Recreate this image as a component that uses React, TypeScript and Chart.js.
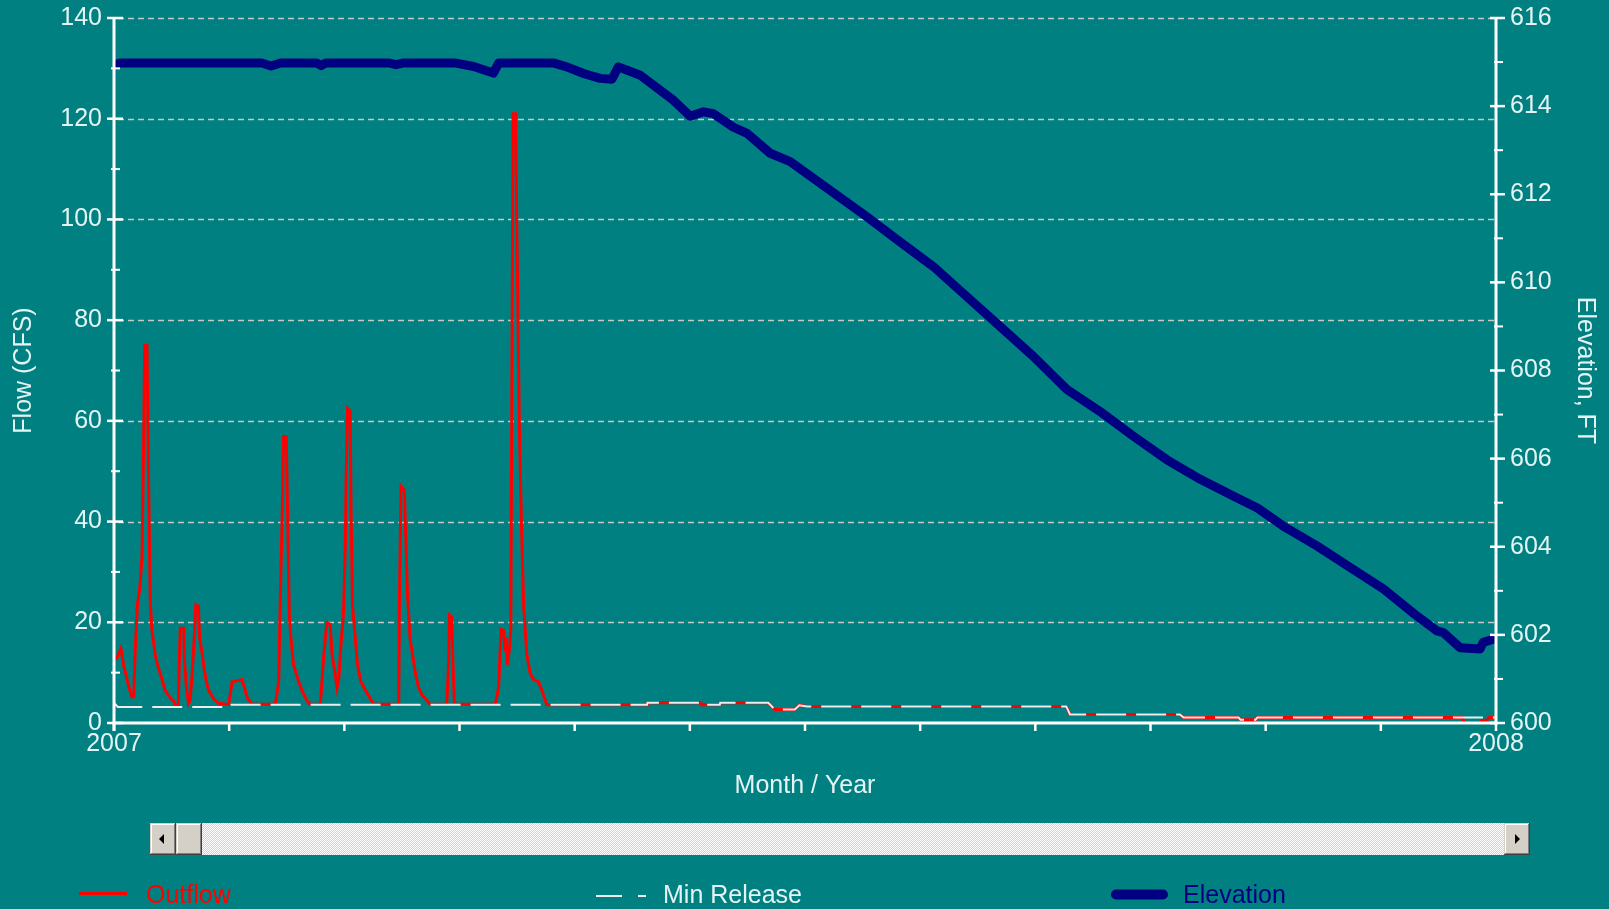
import React, { useEffect, useRef } from 'react';
import { Chart, registerables } from 'chart.js';

Chart.register(...registerables);

const W = 1609;
const H = 909;
const FONT_FAMILY = '"Liberation Sans", Arial, Helvetica, sans-serif';
const BG = '#008080';
const TEXT = '#e4f4f4';
const AXIS = '#ffffff';
const GRID = '#c8c8c8';
const RED = '#ff0000';
const NAVY = '#000080';
const MINREL = '#eeeeee';

// ---- tick labels / axis ranges ----
const yearLabels = ['2007', '2008'];
const daysInYear = 365;
const monthsInYear = 12;
const flowRange = [0, 140];
const flowStep = 20;
const elevRange = [600, 616];
const elevStep = 2;

// ---- series (x = day of year 2007) ----
const outflowDays = [
  0, 0.8, 1.8, 2.5, 3.3, 3.9, 4.7, 5.2, 5.6, 6.2, 6.8, 7.1, 7.4, 7.8, 8.1, 8.7, 9.1, 9.6, 10.0, 10.9,
  11.8, 12.7, 13.5, 15.0, 15.7, 16.2, 17.0, 17.2, 17.5, 18.4, 18.6, 19.1, 19.7, 20.1, 20.6, 21.2, 21.6,
  22.3, 22.6, 23.2, 23.8, 24.4, 25.0, 26.3, 27.6, 30.3, 31.2, 33.8, 34.4, 35.1, 36.4, 42.6, 43.5, 43.9,
  44.4, 44.8, 45.5, 45.9, 46.3, 46.7, 47.4, 48.8, 49.6, 51.0, 51.8, 54.5, 55.4, 56.2, 57.1, 57.6, 58.3,
  58.9, 59.4, 59.9, 60.6, 61.1, 61.3, 61.7, 62.4, 62.6, 63.0, 63.7, 64.3, 65.2, 66.4, 67.7, 68.6, 75.2,
  75.4, 75.8, 76.7, 77.1, 77.5, 78.2, 78.9, 79.6, 80.4, 81.3, 83.5, 87.9, 88.4, 88.6, 89.2, 89.5, 89.9,
  100.7, 101.6, 102.2, 102.9, 103.2, 103.6, 103.9, 104.5, 104.8, 105.1, 105.4, 106.1, 106.4, 106.8,
  107.1, 107.6, 108.2, 108.6, 109.0, 109.9, 110.8, 112.1, 113.0, 114.3, 140.8, 140.9, 155.0, 155.1,
  160.0, 160.1, 172.8, 174.5, 179.8, 181.0, 183.0, 251.5, 252.5, 281.5, 282.5, 297.0, 297.5, 301.5,
  302.0, 356.2, 356.6, 360.8, 361.2, 362.5, 363.2, 365.0,
];
const outflowCfs = [
  12.5, 13.0, 14.8, 11.6, 9.2, 7.2, 5.2, 5.2, 14.3, 23.7, 26.7, 29.8, 33.2, 53.9, 75.0, 75.0, 49.6, 23.7, 18.6, 13.4,
  10.8, 8.6, 6.5, 4.8, 4.4, 3.7, 3.7, 10.8, 18.8, 18.8, 12.5, 7.2, 3.9, 4.4, 9.2, 17.0, 23.5,
  23.2, 17.0, 14.3, 10.8, 8.2, 6.5, 4.8, 3.9, 3.7, 8.2, 8.6, 7.2, 5.2, 3.7, 3.7, 8.2, 24.1,
  40.6, 56.9, 56.9, 39.3, 21.4, 17.0, 11.6, 8.2, 6.5, 4.4, 3.7, 3.7, 13.4, 19.9, 19.6, 13.4, 10.4,
  7.0, 9.0, 15.1, 21.8, 35.4, 48.7, 62.5, 62.0, 42.6, 23.2, 17.0, 11.6, 8.2, 6.5, 4.8, 3.7, 3.7,
  24.9, 47.0, 46.1, 35.8, 25.8, 16.6, 13.4, 9.9, 7.2, 5.6, 3.7, 3.7, 12.5, 21.4, 21.0, 12.5, 3.7,
  3.7, 7.2, 18.6, 18.4, 14.3, 17.0, 11.6, 15.1, 18.6, 70.3, 121.0, 121.0, 97.6, 73.8,
  57.3, 39.8, 23.2, 18.6, 13.8, 9.9, 8.6, 8.2, 6.5, 3.6, 3.6, 4.0, 4.0, 3.6,
  3.6, 4.0, 4.0, 2.7, 2.7, 3.5, 3.3, 3.3, 1.7, 1.7, 1.1, 1.1, 0.65, 0.65,
  1.1, 1.1, 0.0, 0.0, 0.5, 0.5, 1.1, 1.1,
];

const minReleaseDays = [
  0, 1, 30.4, 30.5, 140.8, 140.9, 155.0, 155.1, 160.0, 160.1, 172.8, 174.5, 179.8, 181.0, 183.0,
  251.5, 252.5, 281.5, 282.5, 297.0, 297.5, 301.5, 302.0, 365.0,
];
const minReleaseCfs = [
  4.0, 3.2, 3.2, 3.6, 3.6, 4.0, 4.0, 3.6, 3.6, 4.0, 4.0, 2.7, 2.7, 3.5, 3.3,
  3.3, 1.7, 1.7, 1.1, 1.1, 0.65, 0.65, 1.1, 1.1,
];

const elevationDays = [
  0, 1.5, 39, 41.5, 44, 53.5, 54.7, 56, 72.5, 74.5, 76.5, 90, 95, 100.2, 101.6, 116, 119.6, 124, 128.4,
  131.5, 133.2, 139, 147.8, 152.2, 155.7, 158.3, 163.6, 167.2, 173.3, 178.6, 183, 190.9, 198.8, 207.6,
  216.4, 225.2, 234, 242.8, 251.7, 260.4, 269.2, 278, 286.9, 295.6, 302, 308.8, 317.7, 326.5, 335.3,
  344.1, 349.4, 351.1, 355.5, 360.8, 361.6, 364.3, 365,
];
const elevationFt = [
  614.93, 614.98, 614.98, 614.91, 614.98, 614.98, 614.92, 614.98, 614.98, 614.94, 614.98, 614.98, 614.9,
  614.75, 614.98, 614.98, 614.89, 614.74, 614.63, 614.61, 614.89, 614.7, 614.13, 613.77, 613.87, 613.83,
  613.52, 613.38, 612.93, 612.74, 612.47, 611.98, 611.49, 610.92, 610.36, 609.68, 609.0, 608.32, 607.57,
  607.07, 606.51, 605.98, 605.53, 605.15, 604.88, 604.47, 604.02, 603.53, 603.04, 602.43, 602.09, 602.05,
  601.71, 601.68, 601.83, 601.9, 601.95,
];

const seriesLabels = ['Outflow', 'Min Release', 'Elevation'];

function toPoints(xs: number[], ys: number[]) {
  return xs.map((x, i) => ({ x, y: ys[i] }));
}

function line(ctx: CanvasRenderingContext2D, x1: number, y1: number, x2: number, y2: number) {
  ctx.beginPath();
  ctx.moveTo(x1, y1);
  ctx.lineTo(x2, y2);
  ctx.stroke();
}

function bevel(ctx: CanvasRenderingContext2D, x: number, y: number, w: number, h: number) {
  ctx.fillStyle = '#d4d0c8';
  ctx.fillRect(x, y, w, h);
  ctx.fillStyle = '#ffffff';
  ctx.fillRect(x + 1, y + 1, w - 2, 1);
  ctx.fillRect(x + 1, y + 1, 1, h - 2);
  ctx.fillStyle = '#808080';
  ctx.fillRect(x + 1, y + h - 2, w - 2, 1);
  ctx.fillRect(x + w - 2, y + 1, 1, h - 2);
  ctx.fillStyle = '#404040';
  ctx.fillRect(x, y + h - 1, w, 1);
  ctx.fillRect(x + w - 1, y, 1, h);
}

function noScalePadding(s: any) {
  s.paddingTop = 0;
  s.paddingBottom = 0;
  s.paddingLeft = 0;
  s.paddingRight = 0;
}

const decorPlugin = {
  id: 'decor',
  beforeDraw(chart: any) {
    const { ctx, width, height } = chart;
    ctx.save();
    ctx.fillStyle = BG;
    ctx.fillRect(0, 0, width, height);
    ctx.restore();
  },
  beforeDatasetsDraw(chart: any) {
    const { ctx, chartArea: a, scales } = chart;
    const y = scales.y;
    ctx.save();
    ctx.strokeStyle = GRID;
    ctx.lineWidth = 1.5;
    ctx.setLineDash([6, 4]);
    for (const t of y.ticks) {
      if (t.value <= flowRange[0]) continue;
      const py = Math.round(y.getPixelForValue(t.value)) + 0.5;
      line(ctx, a.left + 4, py, a.right - 2, py);
    }
    ctx.restore();
  },
  afterDatasetsDraw(chart: any) {
    const { ctx, chartArea: a, scales } = chart;
    const { x, y, y2 } = scales;
    ctx.save();
    ctx.strokeStyle = AXIS;
    ctx.lineCap = 'butt';
    ctx.lineWidth = 3;
    line(ctx, a.left, a.top - 1, a.left, a.bottom + 8);
    line(ctx, a.right, a.top - 1, a.right, a.bottom + 2);
    line(ctx, a.left, a.bottom, a.right, a.bottom);
    // left ticks
    ctx.lineWidth = 2.5;
    y.ticks.forEach((t: any) => {
      const py = y.getPixelForValue(t.value);
      line(ctx, a.left - 7, py, a.left + 9, py);
    });
    ctx.lineWidth = 2;
    for (let i = 0; i < y.ticks.length - 1; i++) {
      const py = y.getPixelForValue((y.ticks[i].value + y.ticks[i + 1].value) / 2);
      line(ctx, a.left - 3, py, a.left + 6, py);
    }
    // right ticks
    ctx.lineWidth = 2.5;
    y2.ticks.forEach((t: any) => {
      const py = y2.getPixelForValue(t.value);
      line(ctx, a.right - 6, py, a.right + 9, py);
    });
    ctx.lineWidth = 2;
    for (let i = 0; i < y2.ticks.length - 1; i++) {
      const py = y2.getPixelForValue((y2.ticks[i].value + y2.ticks[i + 1].value) / 2);
      line(ctx, a.right - 2, py, a.right + 7, py);
    }
    // x ticks
    ctx.lineWidth = 2.5;
    x.ticks.forEach((t: any) => {
      const px = x.getPixelForValue(t.value);
      line(ctx, px, a.bottom, px, a.bottom + 8);
    });
    ctx.restore();
  },
  afterDraw(chart: any) {
    const { ctx } = chart;
    ctx.save();
    // scrollbar
    const sx0 = 150, sx1 = 1530, sy = 823, sh = 32, bw = 26;
    const pat = document.createElement('canvas');
    pat.width = 2;
    pat.height = 2;
    const pc = pat.getContext('2d')!;
    pc.fillStyle = '#d4d0c8';
    pc.fillRect(0, 0, 2, 2);
    pc.fillStyle = '#ffffff';
    pc.fillRect(0, 0, 1, 1);
    pc.fillRect(1, 1, 1, 1);
    ctx.fillStyle = ctx.createPattern(pat, 'repeat');
    ctx.fillRect(sx0, sy, sx1 - sx0, sh);
    bevel(ctx, sx0, sy, bw, sh);
    bevel(ctx, sx0 + bw, sy, bw, sh);
    bevel(ctx, sx1 - bw, sy, bw, sh);
    ctx.fillStyle = '#000000';
    const cy = sy + sh / 2;
    ctx.beginPath();
    ctx.moveTo(sx0 + 9, cy);
    ctx.lineTo(sx0 + 14, cy - 5);
    ctx.lineTo(sx0 + 14, cy + 5);
    ctx.closePath();
    ctx.fill();
    ctx.beginPath();
    ctx.moveTo(sx1 - 10, cy);
    ctx.lineTo(sx1 - 15, cy - 5);
    ctx.lineTo(sx1 - 15, cy + 5);
    ctx.closePath();
    ctx.fill();

    // legend
    const base = 903;
    ctx.font = `25px ${FONT_FAMILY}`;
    ctx.textBaseline = 'alphabetic';
    ctx.textAlign = 'left';
    // Outflow
    ctx.strokeStyle = RED;
    ctx.lineWidth = 3;
    line(ctx, 79, 893.5, 127, 893.5);
    ctx.fillStyle = RED;
    ctx.fillText(seriesLabels[0], 146, base);
    // Min Release
    ctx.strokeStyle = MINREL;
    ctx.lineWidth = 2;
    line(ctx, 596, 896, 622, 896);
    line(ctx, 638, 896, 646, 896);
    ctx.fillStyle = TEXT;
    ctx.fillText(seriesLabels[1], 663, base);
    // Elevation
    ctx.strokeStyle = NAVY;
    ctx.lineWidth = 10;
    ctx.lineCap = 'round';
    line(ctx, 1116, 894.5, 1163, 894.5);
    ctx.fillStyle = NAVY;
    ctx.fillText(seriesLabels[2], 1183, base);
    ctx.restore();
  },
};

export default function App() {
  const ref = useRef<HTMLCanvasElement>(null);

  useEffect(() => {
    const canvas = ref.current;
    if (!canvas) return;
    Chart.defaults.font.family = FONT_FAMILY;
    Chart.defaults.color = TEXT;

    const axisFont = { family: FONT_FAMILY, size: 25 };

    const chart = new Chart(canvas, {
      type: 'line',
      data: {
        datasets: [
          {
            label: seriesLabels[0],
            data: toPoints(outflowDays, outflowCfs),
            borderColor: RED,
            backgroundColor: RED,
            borderWidth: 3,
            pointRadius: 0,
            tension: 0,
            yAxisID: 'y',
            order: 1,
          },
          {
            label: seriesLabels[1],
            data: toPoints(minReleaseDays, minReleaseCfs),
            borderColor: MINREL,
            backgroundColor: MINREL,
            borderWidth: 2,
            borderDash: [30, 10],
            pointRadius: 0,
            tension: 0,
            yAxisID: 'y',
            order: 0,
          },
          {
            label: seriesLabels[2],
            data: toPoints(elevationDays, elevationFt),
            borderColor: NAVY,
            backgroundColor: NAVY,
            borderWidth: 9,
            borderCapStyle: 'round',
            borderJoinStyle: 'round',
            pointRadius: 0,
            tension: 0,
            yAxisID: 'y2',
            order: 2,
          },
        ],
      },
      options: {
        responsive: false,
        animation: false,
        devicePixelRatio: 1,
        events: [],
        layout: { padding: { top: 18, bottom: H - 801, left: 0, right: 0 } },
        plugins: { legend: { display: false }, tooltip: { enabled: false } },
        scales: {
          x: {
            type: 'linear',
            position: 'bottom',
            min: 0,
            max: daysInYear,
            afterBuildTicks: (s: any) => {
              s.ticks = Array.from({ length: monthsInYear + 1 }, (_, i) => ({
                value: (i * daysInYear) / monthsInYear,
              }));
            },
            ticks: {
              autoSkip: false,
              maxRotation: 0,
              minRotation: 0,
              padding: 6,
              color: TEXT,
              font: axisFont,
              callback: (v: any) =>
                v === 0 ? yearLabels[0] : v === daysInYear ? yearLabels[1] : '',
            },
            grid: { display: false, drawTicks: false },
            border: { display: false },
            title: {
              display: true,
              text: 'Month / Year',
              color: TEXT,
              font: axisFont,
              padding: { top: 0, bottom: 0 },
            },
            afterFit: (s: any) => {
              s.height = 78;
              noScalePadding(s);
            },
          },
          y: {
            type: 'linear',
            position: 'left',
            min: flowRange[0],
            max: flowRange[1],
            ticks: {
              stepSize: flowStep,
              padding: 12,
              color: TEXT,
              font: axisFont,
              callback: (v: any) => String(v),
            },
            grid: { display: false, drawTicks: false },
            border: { display: false },
            title: {
              display: true,
              text: 'Flow (CFS)',
              color: TEXT,
              font: axisFont,
              padding: { top: 9, bottom: 0 },
            },
            afterFit: (s: any) => {
              s.width = 114;
              noScalePadding(s);
            },
          },
          y2: {
            type: 'linear',
            position: 'right',
            min: elevRange[0],
            max: elevRange[1],
            ticks: {
              stepSize: elevStep,
              padding: 14,
              color: TEXT,
              font: axisFont,
              callback: (v: any) => String(v),
            },
            grid: { display: false, drawTicks: false },
            border: { display: false },
            title: {
              display: true,
              text: 'Elevation, FT',
              color: TEXT,
              font: axisFont,
              padding: { top: 9, bottom: 0 },
            },
            afterFit: (s: any) => {
              s.width = W - 1496;
              noScalePadding(s);
            },
          },
        },
      } as any,
      plugins: [decorPlugin],
    });

    return () => chart.destroy();
  }, []);

  return (
    <div
      style={{
        position: 'fixed',
        left: 0,
        top: 0,
        width: W,
        height: H,
        background: BG,
        overflow: 'hidden',
      }}
    >
      <canvas ref={ref} width={W} height={H} style={{ display: 'block', width: W, height: H }} />
    </div>
  );
}
